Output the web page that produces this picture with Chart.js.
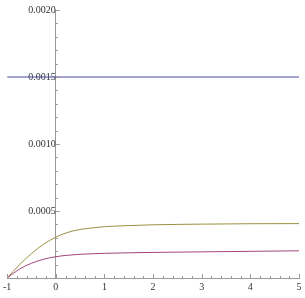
<!DOCTYPE html>
<html>
<head>
<meta charset="utf-8">
<script src="https://cdn.jsdelivr.net/npm/chart.js@4"></script>
<style>
  html, body { margin: 0; padding: 0; background: #fff; }
  #wrap { width: 305px; height: 298px; }
</style>
</head>
<body>
<div id="wrap"><canvas id="plot"></canvas></div>
<script>
const xValues = [-1, -0.75, -0.5, -0.25, 0, 0.25, 0.5, 0.75, 1, 1.5, 2, 2.5, 3, 4, 5];
const blueValues = [0.0015, 0.0015, 0.0015, 0.0015, 0.0015, 0.0015, 0.0015, 0.0015, 0.0015, 0.0015, 0.0015, 0.0015, 0.0015, 0.0015, 0.0015];
const purpleValues = [0, 0.000066, 0.000110, 0.000140, 0.000159, 0.000170, 0.000177, 0.000181, 0.000184, 0.000188, 0.000191, 0.000193, 0.000195, 0.000199, 0.000203];
const oliveValues = [0, 0.000098, 0.000183, 0.000252, 0.000305, 0.000341, 0.000362, 0.000374, 0.000383, 0.000391, 0.000397, 0.000400, 0.000402, 0.000405, 0.000406];
const yTicks = [0.0005, 0.0010, 0.0015, 0.0020];

const font = { family: 'Liberation Serif', size: 10 };
const axisColor = '#999';

function toPoints(ys) {
    return xValues.map((x, i) => ({ x: x, y: ys[i] }));
}

// Mathematica-style tick marks: major and minor, drawn inward from the axes
const tickMarks = {
    id: 'tickMarks',
    afterDraw(chart) {
        const ctx = chart.ctx;
        const xs = chart.scales.x;
        const ys = chart.scales.y;
        const x0 = xs.getPixelForValue(0);
        const y0 = ys.getPixelForValue(0);
        ctx.save();
        ctx.strokeStyle = axisColor;
        ctx.lineWidth = 1;
        ctx.beginPath();
        for (let i = -5; i <= 25; i++) {
            const px = Math.round(xs.getPixelForValue(i / 5)) + 0.5;
            const len = i % 5 === 0 ? 4 : 2;
            ctx.moveTo(px, y0);
            ctx.lineTo(px, y0 - len);
        }
        for (let j = 1; j <= 20; j++) {
            const py = Math.round(ys.getPixelForValue(j * 0.0001)) + 0.5;
            const len = j % 5 === 0 ? 4 : 2;
            ctx.moveTo(x0, py);
            ctx.lineTo(x0 + len, py);
        }
        ctx.stroke();
        ctx.restore();
    }
};

document.addEventListener('DOMContentLoaded', () => {
    const ctx = document.getElementById('plot').getContext('2d');
    new Chart(ctx, {
        type: 'line',
        data: {
            datasets: [{
                data: toPoints(blueValues),
                borderColor: '#4646a8',
                borderWidth: 1,
                pointRadius: 0
            }, {
                data: toPoints(purpleValues),
                borderColor: '#a3457c',
                borderWidth: 1,
                pointRadius: 0,
                cubicInterpolationMode: 'monotone'
            }, {
                data: toPoints(oliveValues),
                borderColor: '#9c9040',
                borderWidth: 1,
                pointRadius: 0,
                cubicInterpolationMode: 'monotone'
            }]
        },
        options: {
            responsive: true,
            maintainAspectRatio: false,
            animation: false,
            layout: { padding: { left: 5, right: 6, top: 10, bottom: 2 } },
            plugins: {
                legend: { display: false },
                tooltip: { enabled: false }
            },
            scales: {
                x: {
                    type: 'linear',
                    position: 'bottom',
                    min: -1,
                    max: 5,
                    grid: { display: false, drawTicks: false },
                    border: { color: axisColor },
                    ticks: { stepSize: 1, font: font, color: '#333', padding: 3, maxRotation: 0 }
                },
                y: {
                    type: 'linear',
                    position: { x: 0 },
                    min: 0,
                    max: 0.002,
                    grid: { display: false, drawTicks: false },
                    border: { color: axisColor },
                    afterBuildTicks: (scale) => {
                        scale.ticks = yTicks.map(v => ({ value: v }));
                    },
                    ticks: {
                        font: font,
                        color: '#333',
                        padding: 3,
                        callback: (v) => v.toFixed(4)
                    }
                }
            }
        },
        plugins: [tickMarks]
    });
});
</script>
</body>
</html>
